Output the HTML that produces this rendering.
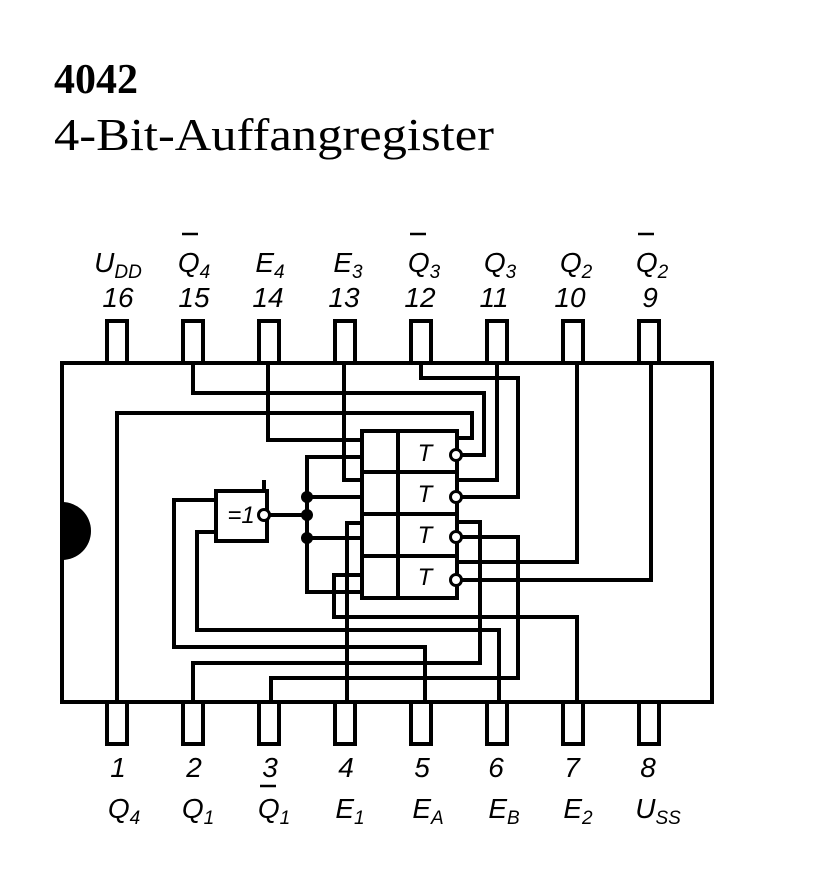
<!DOCTYPE html>
<html><head><meta charset="utf-8"><style>
html,body{margin:0;padding:0;background:#fff;}
svg{display:block}
.t{font-family:"Liberation Sans",sans-serif;font-style:italic;font-size:28px;fill:#000}
.s{font-size:19px}
</style></head><body>
<svg width="826" height="881" viewBox="0 0 826 881" xmlns="http://www.w3.org/2000/svg">
<text x="54" y="93" font-family="Liberation Serif" font-weight="bold" font-size="42">4042</text>
<text x="54" y="150" font-family="Liberation Serif" font-size="46" textLength="440" lengthAdjust="spacingAndGlyphs">4-Bit-Auffangregister</text>

<g class="t" text-anchor="middle">
<text x="118" y="272">U<tspan class="s" dy="6">DD</tspan></text>
<text x="194" y="272">Q<tspan class="s" dy="6">4</tspan></text>
<text x="270" y="272">E<tspan class="s" dy="6">4</tspan></text>
<text x="348" y="272">E<tspan class="s" dy="6">3</tspan></text>
<text x="424" y="272">Q<tspan class="s" dy="6">3</tspan></text>
<text x="500" y="272">Q<tspan class="s" dy="6">3</tspan></text>
<text x="576" y="272">Q<tspan class="s" dy="6">2</tspan></text>
<text x="652" y="272">Q<tspan class="s" dy="6">2</tspan></text>
<text x="118" y="307">16</text><text x="194" y="307">15</text><text x="268" y="307">14</text><text x="344" y="307">13</text>
<text x="420" y="307">12</text><text x="494" y="307">11</text><text x="570" y="307">10</text><text x="650" y="307">9</text>
<text x="118" y="777">1</text><text x="194" y="777">2</text><text x="270" y="777">3</text><text x="346" y="777">4</text>
<text x="422" y="777">5</text><text x="496" y="777">6</text><text x="572" y="777">7</text><text x="648" y="777">8</text>
<text x="124" y="818">Q<tspan class="s" dy="6">4</tspan></text>
<text x="198" y="818">Q<tspan class="s" dy="6">1</tspan></text>
<text x="274" y="818">Q<tspan class="s" dy="6">1</tspan></text>
<text x="350" y="818">E<tspan class="s" dy="6">1</tspan></text>
<text x="428" y="818">E<tspan class="s" dy="6">A</tspan></text>
<text x="504" y="818">E<tspan class="s" dy="6">B</tspan></text>
<text x="578" y="818">E<tspan class="s" dy="6">2</tspan></text>
<text x="658" y="818">U<tspan class="s" dy="6">SS</tspan></text>
</g>
<g stroke="#000" stroke-width="2.5">
<line x1="182" y1="234" x2="198" y2="234"/><line x1="410" y1="234" x2="426" y2="234"/><line x1="638" y1="234" x2="654" y2="234"/><line x1="260" y1="786" x2="276" y2="786"/>
</g>

<g fill="none" stroke="#000" stroke-width="4">
<rect x="62" y="363" width="650" height="339"/>
<rect x="107" y="321" width="20" height="42"/><rect x="183" y="321" width="20" height="42"/>
<rect x="259" y="321" width="20" height="42"/><rect x="335" y="321" width="20" height="42"/>
<rect x="411" y="321" width="20" height="42"/><rect x="487" y="321" width="20" height="42"/>
<rect x="563" y="321" width="20" height="42"/><rect x="639" y="321" width="20" height="42"/>
<rect x="107" y="702" width="20" height="42"/><rect x="183" y="702" width="20" height="42"/>
<rect x="259" y="702" width="20" height="42"/><rect x="335" y="702" width="20" height="42"/>
<rect x="411" y="702" width="20" height="42"/><rect x="487" y="702" width="20" height="42"/>
<rect x="563" y="702" width="20" height="42"/><rect x="639" y="702" width="20" height="42"/>

<rect x="362" y="431" width="95" height="167"/>
<line x1="398" y1="431" x2="398" y2="598"/>
<line x1="362" y1="472" x2="457" y2="472"/>
<line x1="362" y1="514" x2="457" y2="514"/>
<line x1="362" y1="556" x2="457" y2="556"/>
<rect x="216" y="491" width="51" height="50"/>

<polyline points="117,702 117,413 472,413 472,438 457,438"/>
<polyline points="193,363 193,393 484,393 484,455 460,455"/>
<polyline points="268,363 268,440 362,440"/>
<polyline points="344,363 344,480 362,480"/>
<polyline points="421,363 421,378 518,378 518,497 460,497"/>
<polyline points="497,363 497,480 457,480"/>
<polyline points="577,363 577,562 457,562"/>
<polyline points="651,363 651,580 460,580"/>
<polyline points="460,537 518,537 518,678 271,678 271,702"/>
<polyline points="457,522 480,522 480,663 193,663 193,702"/>
<polyline points="347,702 347,523 362,523"/>
<polyline points="577,702 577,617 334,617 334,575 362,575"/>
<polyline points="216,500 174,500 174,647 425,647 425,702"/>
<polyline points="216,532 197,532 197,630 499,630 499,702"/>
<polyline points="362,457 307,457 307,592 362,592"/>
<line x1="307" y1="497" x2="362" y2="497"/>
<line x1="307" y1="538" x2="362" y2="538"/>
<line x1="270" y1="515" x2="307" y2="515"/>
<line x1="264" y1="480" x2="264" y2="491"/>
</g>
<g fill="#fff" stroke="#000" stroke-width="3">
<circle cx="264" cy="515" r="5.5"/>
<circle cx="456" cy="455" r="5.5"/><circle cx="456" cy="497" r="5.5"/>
<circle cx="456" cy="537" r="5.5"/><circle cx="456" cy="580" r="5.5"/>
</g>
<g fill="#000">
<circle cx="307" cy="497" r="6"/><circle cx="307" cy="515" r="6"/><circle cx="307" cy="538" r="6"/>
<path d="M62,502 A29,29 0 0 1 62,560 Z"/>
</g>
<g font-family="Liberation Sans" font-style="italic" font-size="24" text-anchor="middle">
<text x="241" y="523">=1</text>
<text x="425" y="461">T</text><text x="425" y="502">T</text><text x="425" y="543">T</text><text x="425" y="585">T</text>
</g>
</svg>
</body></html>
